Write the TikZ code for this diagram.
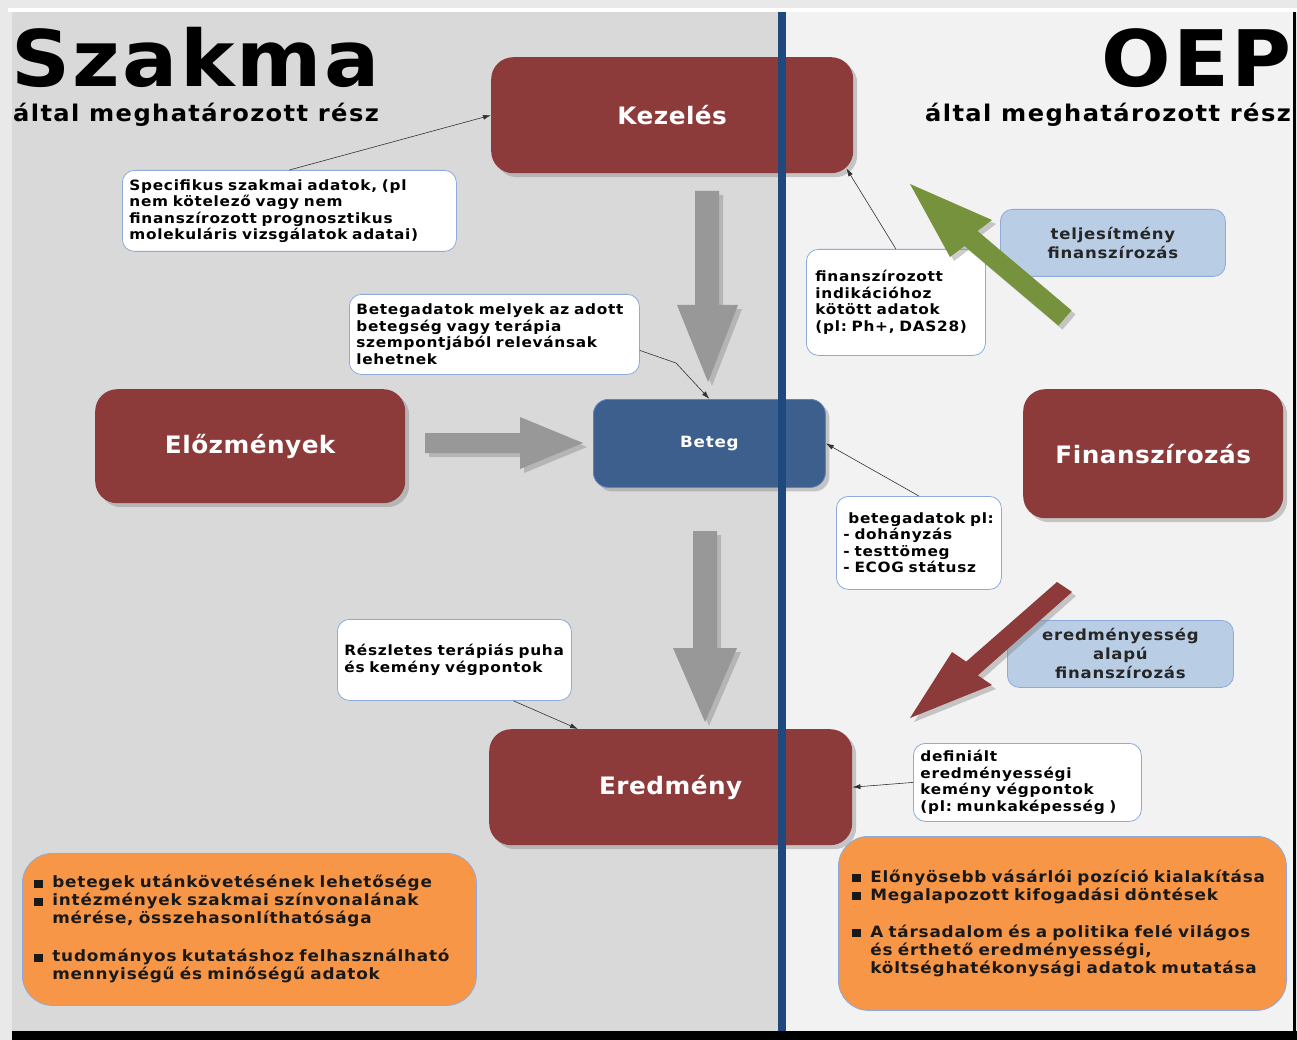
\documentclass[tikz,border=0pt]{standalone}
\usepackage{fontspec}
\setmainfont{DejaVu Sans}
\newfontfamily\vf{DejaVu Sans}[FakeStretch=1.08, LetterSpace=5]
\newfontfamily\vt{DejaVu Sans}[FakeStretch=1.05, LetterSpace=6]
\newfontfamily\vT{DejaVu Sans}[FakeStretch=1.05, LetterSpace=3]
\newfontfamily\vn{DejaVu Sans}[FakeStretch=1.03, LetterSpace=2]
\frenchspacing
\usetikzlibrary{shadows,arrows.meta,calc}
\definecolor{panelL}{HTML}{D9D9D9}
\definecolor{panelR}{HTML}{F2F2F2}
\definecolor{outerc}{HTML}{E9E9E9}
\definecolor{nred}{HTML}{8C3B3A}
\definecolor{nblue}{HTML}{3C5F8E}
\definecolor{nblueb}{HTML}{5B85C0}
\definecolor{vline}{HTML}{1F497D}
\definecolor{cbord}{HTML}{8EAADB}
\definecolor{lblue}{HTML}{B9CDE5}
\definecolor{orng}{HTML}{F79646}
\definecolor{gra}{HTML}{989898}
\definecolor{grn}{HTML}{76923C}
\newcommand{\myitem}[1]{\makebox[18pt][l]{\rule{9pt}{8pt}}#1}
\tikzset{
  shad/.style={drop shadow={shadow xshift=4pt,shadow yshift=-4pt,opacity=0.4}},
  bignode/.style={fill=nred, rounded corners=22pt, shad, text=white, anchor=north west, inner sep=0pt,
    font={\vn\bfseries\fontsize{24}{28}\selectfont}},
  callout/.style={draw=cbord, line width=0.8pt, fill=white, rounded corners=12pt, anchor=north west,
    inner xsep=7pt, inner ysep=0pt, align=left, text=black, font={\vf\bfseries\fontsize{14.2}{16.5}\selectfont\frenchspacing}},
  lbbox/.style={draw=cbord, line width=0.8pt, fill=lblue, rounded corners=12pt, anchor=north west,
    inner xsep=5pt, inner ysep=0pt, align=center, text=black!85, font={\vf\bfseries\fontsize{15.3}{19}\selectfont}},
  obox/.style={draw=cbord, line width=0.8pt, fill=orng, rounded corners=30pt, anchor=north west,
    inner ysep=0pt, align=left, text=black!90, font={\vf\bfseries\fontsize{15.6}{18}\selectfont\frenchspacing}},
  conn/.style={draw=black!80, line width=0.6pt, -{Latex[length=8pt,width=5pt]}},
  bigarrow/.style={fill=gra, shad},
}
\begin{document}
\begin{tikzpicture}[x=1pt,y=-1pt]
\useasboundingbox (0,0) rectangle (1297,1040);
% background
\fill[outerc] (0,0) rectangle (1297,1040);
\fill[white] (8,8) rectangle (1297,12);
\fill[panelL] (12,12) rectangle (779,1031);
\fill[panelR] (786,12) rectangle (1293,1031);
\fill[black] (1293,12) rectangle (1296,1031);
\fill[black] (12,1031) rectangle (1297,1040);

% grey arrows
\fill[bigarrow] (695,191) -- (719,191) -- (719,305) -- (738,305) -- (708,382) -- (677,305) -- (695,305) -- cycle;
\fill[bigarrow] (425,433) -- (520,433) -- (520,417) -- (583,443) -- (520,469) -- (520,453) -- (425,453) -- cycle;
\fill[bigarrow] (693,531) -- (717,531) -- (717,648) -- (737,648) -- (705,722) -- (673,648) -- (693,648) -- cycle;

% main nodes
\node[bignode, minimum width=362pt, minimum height=116pt] (kez) at (491,57) {Kezelés};
\node[bignode, minimum width=310pt, minimum height=114pt] (elo) at (95,389) {Előzmények};
\node[bignode, minimum width=260pt, minimum height=129pt] (finn) at (1023,389) {Finanszírozás};
\node[bignode, minimum width=363pt, minimum height=116pt] (ered) at (489,729) {Eredmény};
\node[fill=nblue, draw=nblueb, line width=0.8pt, rounded corners=15pt, shad, text=white, anchor=north west,
  inner sep=0pt, minimum width=232pt, minimum height=88pt, font={\vf\bfseries\fontsize{15.5}{18}\selectfont}]
  (bet) at (593,399) {Beteg};

% callouts
\node[callout, minimum width=334pt, minimum height=81pt, text width=320pt] (spec) at (122,170)
  {Specifikus szakmai adatok, (pl\\nem kötelező vagy nem\\finanszírozott prognosztikus\\molekuláris vizsgálatok adatai)};
\node[callout, minimum width=290pt, minimum height=80pt, text width=276pt] (bm) at (349,294)
  {Betegadatok melyek az adott\\betegség vagy terápia\\szempontjából relevánsak\\lehetnek};
\node[callout, inner xsep=9pt, minimum width=179pt, minimum height=106pt, text width=161pt] (fin) at (806,249)
  {finanszírozott\\indikációhoz\\kötött adatok\\(pl: Ph+, DAS28)};
\node[callout, inner xsep=7pt, minimum width=165pt, minimum height=93pt, text width=151pt] (bp) at (836,496)
  {\mbox{\hspace*{5pt}betegadatok pl:}\\- dohányzás\\- testtömeg\\- ECOG státusz};
\node[callout, minimum width=234pt, minimum height=81pt, text width=220pt] (resz) at (337,619)
  {Részletes terápiás puha\\és kemény végpontok};
\node[callout, minimum width=228pt, minimum height=78pt, text width=214pt] (def) at (913,743)
  {definiált\\eredményességi\\kemény végpontok\\(pl: munkaképesség )};

% light blue boxes
\node[lbbox, minimum width=225pt, minimum height=67pt, text width=215pt] (telj) at (1000,209)
  {teljesítmény\\finanszírozás};
\node[lbbox, minimum width=226pt, minimum height=67pt, text width=216pt] (eal) at (1007,620)
  {eredményesség\\alapú\\finanszírozás};

% orange boxes
\node[obox, inner xsep=12pt, minimum width=454pt, minimum height=152pt, text width=430pt] (ol) at (22,853)
  {\myitem{betegek utánkövetésének lehetősége}\\
   \myitem{intézmények szakmai színvonalának}\\
   \hspace*{18pt}mérése, összehasonlíthatósága\\[20pt]
   \myitem{tudományos kutatáshoz felhasználható}\\
   \hspace*{18pt}mennyiségű és minőségű adatok};
\node[obox, inner xsep=14pt, minimum width=448pt, minimum height=174pt, text width=420pt] (or) at (838,836)
  {\myitem{Előnyösebb vásárlói pozíció kialakítása}\\
   \myitem{Megalapozott kifogadási döntések}\\[19pt]
   \myitem{A társadalom és a politika felé világos}\\
   \hspace*{18pt}és érthető eredményességi,\\
   \hspace*{18pt}költséghatékonysági adatok mutatása};

% coloured big arrows
\fill[grn, shad] (1058.5,325.6) -- (964.5,246) -- (950,257) -- (910,184) -- (992,220) -- (977.5,231) -- (1071.5,310.4) -- cycle;
\fill[nred, shad] (1057,582) -- (966.2,661.6) -- (952,652) -- (910,718) -- (992,685) -- (977.8,675.4) -- (1072,592) -- cycle;

% connectors
\coordinate (bmk) at (676,363);
\draw[conn] (spec.north) -- (kez.west);
\draw[conn] ($(bm.east)+(0,16)$) -- (bmk) -- (bet.north);
\draw[conn] (fin.north) -- ($(kez.south east)+(-7,-5)$);
\draw[conn] (bp.north) -- (bet.east);
\draw[conn] ($(resz.south)+(59,0)$) -- ($(ered.north west)+(89,0)$);
\draw[conn] (def.west) -- (ered.east);

% separator line
\fill[vline] (778,12) rectangle (786,1031);

% titles
\node[anchor=base west, inner sep=0pt, font={\vT\bfseries\fontsize{78}{82}\selectfont}] (tszak) at (11,87) {Szakma};
\node[anchor=base west, inner sep=0pt, font={\vt\bfseries\fontsize{23}{26}\selectfont}] (tszak2) at (13,122) {által meghatározott rész};
\node[anchor=base east, inner sep=0pt, font={\vT\bfseries\fontsize{78}{82}\selectfont}] (toep) at (1292,87) {OEP};
\node[anchor=base east, inner sep=0pt, font={\vt\bfseries\fontsize{23}{26}\selectfont}] (toep2) at (1291,122) {által meghatározott rész};
\end{tikzpicture}
\end{document}
